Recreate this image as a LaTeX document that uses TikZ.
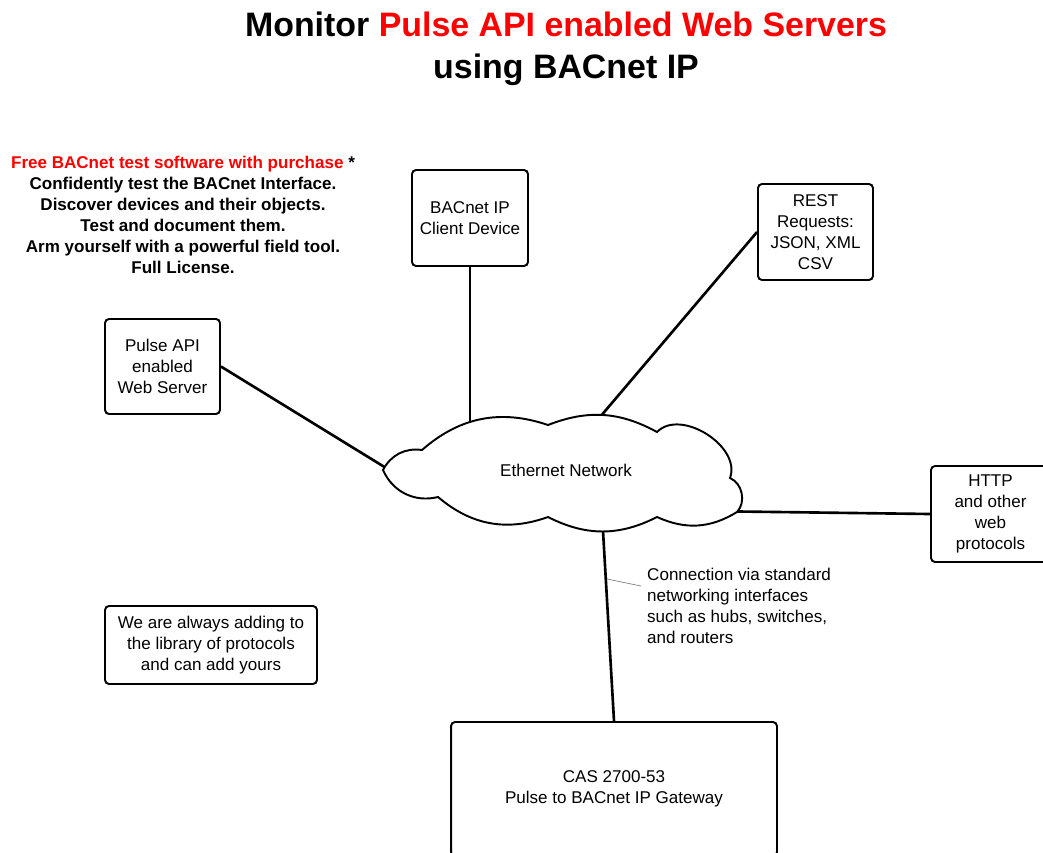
\documentclass[tikz,border=0pt]{standalone}
\usepackage{fontspec}
\setmainfont{Liberation Sans}
\usetikzlibrary{shapes,backgrounds,calc}

\begin{document}
\begin{tikzpicture}[x=0.02cm, y=-0.02cm, text=black,
	devbox/.style={draw, line width=1.1pt, rounded corners=0.08cm, align=center, inner sep=0pt, font=\fontsize{9.7}{11.9}\selectfont},
	link/.style={line width=1.5pt},
	bodytext/.style={font=\fontsize{9.7}{11.9}\selectfont}]
	\def \boxw {2.32cm}
\def \boxh {1.92cm}
\def \netx {566}
\def \nety {470}

\clip (0,0) rectangle (1043,852);

%Title
\node[align=center, font=\bfseries\fontsize{19.3}{23.8}\selectfont] (title) at (566,49)
	{Monitor \textcolor{red}{Pulse API enabled Web Servers}\\using BACnet IP};

%Free software text
\node[align=center, font=\bfseries\fontsize{9.7}{11.9}\selectfont] (promo) at (183,215)
	{\textcolor{red}{Free BACnet test software with purchase} *\\
	Confidently test the BACnet Interface.\\
	Discover devices and their objects.\\
	Test and document them.\\
	Arm yourself with a powerful field tool.\\
	Full License.};

%Cloud
\begin{scope}[shift={(\netx,\nety)}]
\draw[line width=1.1pt, fill=white] (-144,-20) to[bend left=30] (-18,-45) to[bend left=25] (91,-38)
	to[bend left=78] (164,8) to[bend left=55] (171,42) to[bend left=28] (91,47) to[bend left=27] (-18,47)
	to[bend left=30] (-128,27) to[bend left=40] (-183,0) to[bend left=35] (-144,-20) -- cycle;
\end{scope}
\node[bodytext] (net) at (\netx,\nety) {Ethernet Network};

%Devices
\node[devbox, minimum width=\boxw, minimum height=\boxh] (client) at (470,218) {BACnet IP\\Client Device};
\node[devbox, minimum width=2.3cm, minimum height=\boxh] (rest) at (815.5,232) {REST\\Requests:\\JSON, XML\\CSV};
\node[devbox, minimum width=2.3cm, minimum height=1.9cm] (pulse) at (162.5,366.5) {Pulse API\\enabled\\Web Server};
\node[devbox, minimum width=2.38cm, minimum height=\boxh] (http) at (990.5,514) {HTTP\\and other\\web\\protocols};
\node[devbox, minimum width=4.24cm, minimum height=1.56cm] (library) at (211,645)
	{We are always adding to\\the library of protocols\\and can add yours};
\node[devbox, minimum width=6.52cm, minimum height=2.68cm] (cas) at (614,789)
	{CAS 2700-53\\Pulse to BACnet IP Gateway};

%Links to the cloud (behind it)
\begin{scope}[on background layer]
\draw[link] (client.south) -- (client.south |- net.center);
\draw[link] (rest.west) -- ($(net.center)+(6,-20)$);
\draw[link] (pulse.east) -- ($(net.center)+(-149,17)$);
\draw[link] (http.west) -- ($(net.center)+(134,41)$);
\draw[link] (cas.north) -- ($(net.center)+(34,9)$);
\end{scope}

%Note on the link
\node[bodytext, align=left, anchor=west] (connnote) at (641,606)
	{Connection via standard\\networking interfaces\\such as hubs, switches,\\and routers};
\coordinate (onlink) at (607,579);
\draw[gray, line width=0.4pt] (onlink) -- (connnote.west |- 0,586);

\end{tikzpicture}
\end{document}
